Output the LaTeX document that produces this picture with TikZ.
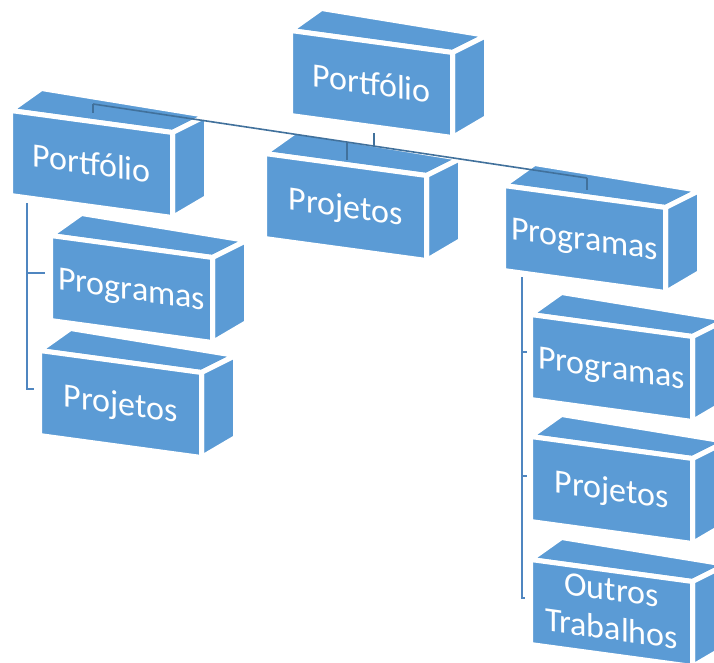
\documentclass[tikz,border=0pt]{standalone}
\usepackage{fontspec}
\setmainfont{Carlito}
\definecolor{boxblue}{HTML}{5B9BD5}
\definecolor{linkblue}{HTML}{41719C}
\definecolor{treeblue}{HTML}{4F86C0}
\tikzset{
  face/.style={fill=boxblue, draw=white, line width=5pt, line join=round},
  label3d/.style={text=white, font=\fontsize{34}{39}\selectfont, yslant=-0.14,
    align=center, text height=21.5pt, text depth=0pt, inner sep=0pt},
  link/.style={draw=linkblue, line width=1.6pt},
  treelink/.style={draw=treeblue, line width=1.8pt}
}
\newcommand\cubebox[5][]{%
  % top face
  \path[face] ({#3-2.5},{#4-2.5}) -- ({#3+159.5},{#4+19.5}) -- ({#3+193.5},{#4+2.5}) -- ({#3+28.5},{#4-24.5}) -- cycle;
  % side face
  \path[face] ({#3+159.5},{#4+19.5}) -- ({#3+193.5},{#4+2.5}) -- ({#3+193.5},{#4+84.5}) -- ({#3+159.5},{#4+104.5}) -- cycle;
  % front face
  \path[face] ({#3-2.5},{#4-2.5}) -- ({#3+159.5},{#4+19.5}) -- ({#3+159.5},{#4+104.5}) -- ({#3-2.5},{#4+82.5}) -- cycle;
  \node[label3d,#1] (#2) at ({#3+78.5},{#4+51}) {#5};
}
\begin{document}
\begin{tikzpicture}[x=1pt,y=-1pt]
\useasboundingbox (0,0) rectangle (714,662);
\clip (0,0) rectangle (714,662);
\fill[white] (0,0) rectangle (714,662);

\cubebox{root}{293}{33}{Portfólio}
\cubebox{pf}{13}{113}{Portfólio}
\cubebox{pj}{267}{156}{Projetos}
\cubebox{pg}{506}{188}{Programas}
\cubebox{pfpg}{53}{238}{Programas}
\cubebox{pfpj}{42}{353}{Projetos}
\cubebox{pgpg}{533}{317}{Programas}
\cubebox{pgpj}{533}{439}{Projetos}
\cubebox[yshift=-16pt]{pgot}{533}{562}{Outros\\Trabalhos}

% top-level connectors
\coordinate (jL) at (93,104);
\coordinate (jR) at (587,178);
\coordinate (jC) at (347,142);
\coordinate (jT) at (374,146.1);
\coordinate (sT) at (374,133);
\coordinate (dL) at (93,113);
\coordinate (dC) at (347,160);
\coordinate (dR) at (587,190);
\draw[link] (jL) -- (jR);
\draw[link] (sT) -- (jT);
\draw[link] (jL) -- (dL);
\draw[link] (jC) -- (dC);
\draw[link] (jR) -- (dR);

% left tree
\coordinate (lt0) at (27,203);
\coordinate (lt1) at (27,273);
\coordinate (lt1e) at (45,273);
\coordinate (lt2) at (27,389);
\coordinate (lt2e) at (34,389);
\draw[treelink] (lt0) -- (lt2) -- (lt2e);
\draw[treelink] (lt1) -- (lt1e);

% right tree
\coordinate (rt0) at (522,277);
\coordinate (rt1) at (522,352);
\coordinate (rt1e) at (527,352);
\coordinate (rt2) at (522,476);
\coordinate (rt2e) at (527,476);
\coordinate (rt3) at (522,598);
\coordinate (rt3e) at (525,598);
\draw[treelink] (rt0) -- (rt3) -- (rt3e);
\draw[treelink] (rt1) -- (rt1e);
\draw[treelink] (rt2) -- (rt2e);
\end{tikzpicture}
\end{document}
